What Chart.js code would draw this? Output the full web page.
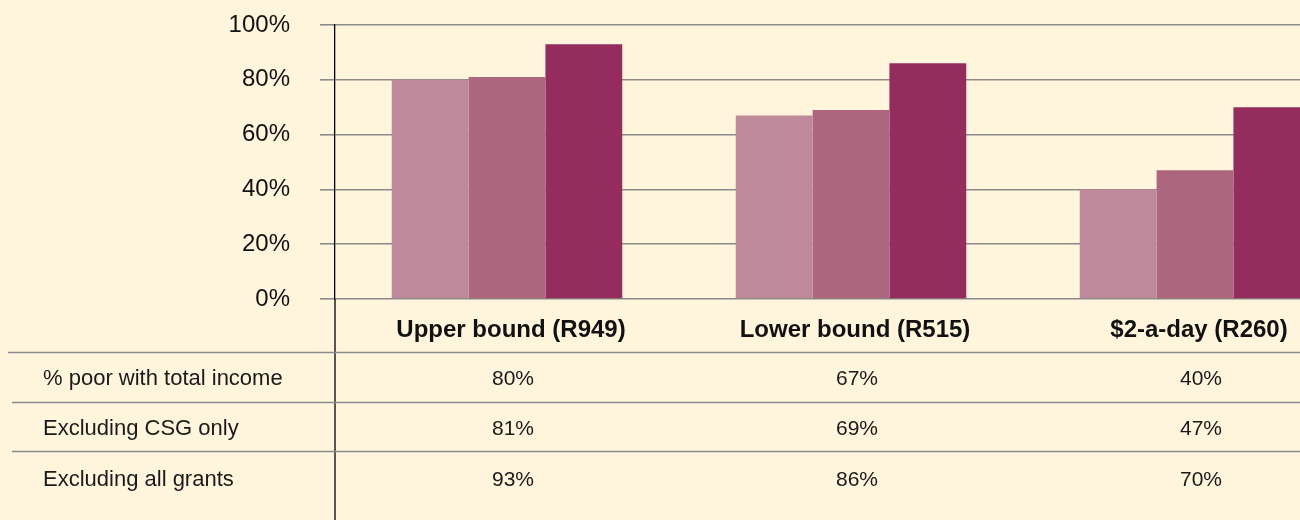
<!DOCTYPE html>
<html>
<head>
<meta charset="utf-8">
<script src="https://cdn.jsdelivr.net/npm/chart.js@4/dist/chart.umd.min.js"></script>
<style>
  html, body { margin: 0; padding: 0; background: #FFF5DC; }
  #wrap { width: 1300px; height: 520px; overflow: hidden; position: relative; background: #FFF5DC; }
  canvas { display: block; }
</style>
</head>
<body>
<div id="wrap"><canvas id="c" width="1370" height="520"></canvas></div>
<script>
const categories = ['Upper bound (R949)', 'Lower bound (R515)', '$2-a-day (R260)'];
const seriesNames = ['% poor with total income', 'Excluding CSG only', 'Excluding all grants'];
const totalIncome = [80, 67, 40];
const exclCSG = [81, 69, 47];
const exclAllGrants = [93, 86, 70];
const seriesColors = ['#BE8A9B', '#AC677F', '#942C5E'];
const seriesValues = [totalIncome, exclCSG, exclAllGrants];

const FONT = '"Liberation Sans", Arial, sans-serif';

const tablePlugin = {
  id: 'tablePlugin',
  afterDraw(chart) {
    const ctx = chart.ctx;
    const xs = chart.scales.x;
    const area = chart.chartArea;
    ctx.save();
    // extend y axis line down to bottom
    ctx.strokeStyle = '#000';
    ctx.lineWidth = 1.3;
    ctx.beginPath();
    ctx.moveTo(area.left, area.bottom);
    ctx.lineTo(area.left, 520);
    ctx.stroke();

    // category labels
    ctx.fillStyle = '#111';
    ctx.font = 'bold 24px ' + FONT;
    ctx.textAlign = 'center';
    ctx.textBaseline = 'middle';
    categories.forEach((c, i) => {
      ctx.fillText(c, xs.getPixelForValue(i) + 4, 330);
    });

    // table lines
    ctx.strokeStyle = '#8a8a8a';
    ctx.lineWidth = 1.6;
    const lineYs = [352.5, 402.5, 451.5];
    const lineX0 = [8, 12, 12];
    lineYs.forEach((y, k) => {
      ctx.beginPath();
      ctx.moveTo(lineX0[k], y);
      ctx.lineTo(1370, y);
      ctx.stroke();
    });

    // row labels and values
    const rowYs = [379, 429, 480];
    seriesNames.forEach((name, r) => {
      ctx.fillStyle = '#1a1a1a';
      ctx.font = '22px ' + FONT;
      ctx.textAlign = 'left';
      ctx.fillText(name, 43, rowYs[r]);
      ctx.font = '21px ' + FONT;
      ctx.textAlign = 'center';
      seriesValues[r].forEach((v, i) => {
        ctx.fillText(v + '%', xs.getPixelForValue(i) + 6, rowYs[r]);
      });
    });
    ctx.restore();
  }
};

new Chart(document.getElementById('c'), {
  type: 'bar',
  data: {
    labels: categories,
    datasets: seriesNames.map((n, k) => ({
      label: n,
      data: seriesValues[k],
      backgroundColor: seriesColors[k],
      borderWidth: 0,
      categoryPercentage: 0.67,
      barPercentage: 1.0
    }))
  },
  options: {
    responsive: false,
    devicePixelRatio: 1,
    animation: false,
    layout: { padding: { top: 25, right: 3, bottom: 221, left: 0 } },
    plugins: { legend: { display: false }, tooltip: { enabled: false } },
    scales: {
      x: {
        display: false,
        grid: { display: false }
      },
      y: {
        min: 0,
        max: 100,
        afterFit(scale) {
          scale.width = 335;
          scale.paddingTop = 0;
          scale.paddingBottom = 0;
        },
        ticks: {
          stepSize: 20,
          padding: 30,
          color: '#111',
          font: { family: FONT, size: 24 },
          callback: v => v + '%'
        },
        grid: {
          color: '#8a8a8a',
          lineWidth: 1.6,
          drawTicks: true,
          tickLength: 15
        },
        border: { display: true, color: '#000', width: 1.3 }
      }
    }
  },
  plugins: [tablePlugin]
});
</script>
</body>
</html>
